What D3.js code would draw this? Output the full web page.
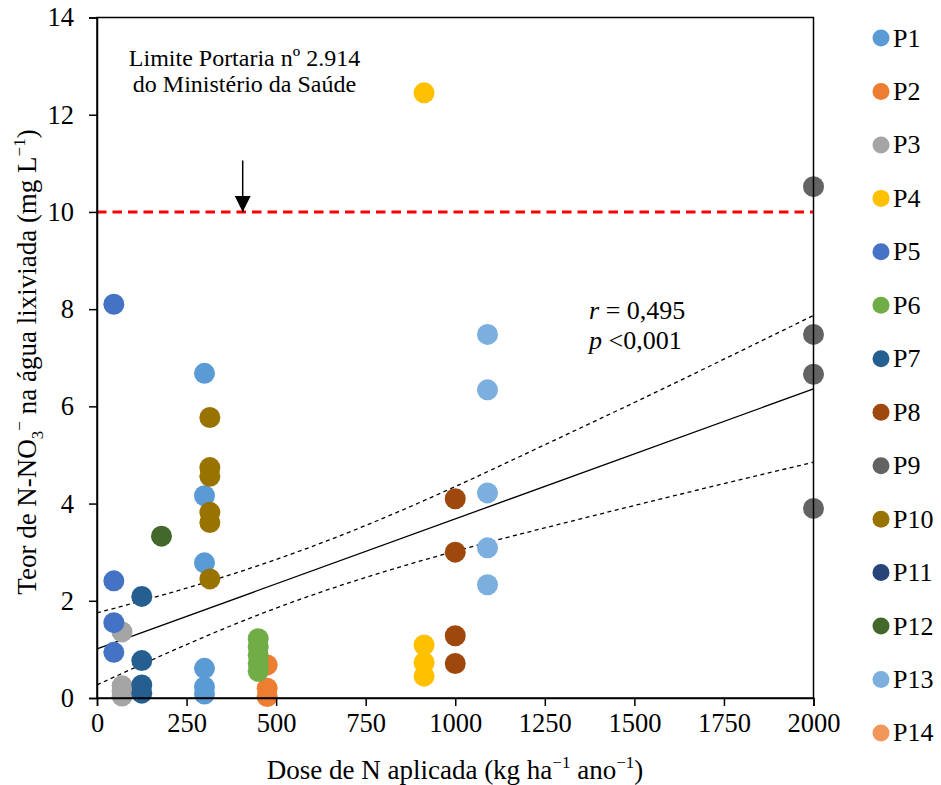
<!DOCTYPE html>
<html>
<head>
<meta charset="utf-8">
<script src="https://cdn.jsdelivr.net/npm/d3@7"></script>
<style>
  html, body { margin: 0; padding: 0; background: #fff; }
  svg { display: block; }
  text { font-family: "Liberation Serif", "Times New Roman", serif; fill: #000; }
</style>
</head>
<body>
<svg id="chart" width="941" height="785"></svg>
<script>
// ---------- data ----------
const seriesNames = ["P1","P2","P3","P4","P5","P6","P7","P8","P9","P10","P11","P12","P13","P14"];
const seriesColors = ["#5B9BD5","#ED7D31","#A5A5A5","#FFC000","#4472C4","#70AD47","#255E91","#9E480E","#636363","#997300","#264478","#43682B","#7CAFDD","#F1975A"];
const seriesDose = [300, 475, 70, 913, 47, 450, 125, 1000, 2000, 315, 125, 180, 1090, 475];
const P1 = [6.68, 4.16, 2.78, 0.61, 0.23, 0.08];
const P2 = [0.68, 0.20, 0.03];
const P3 = [1.36, 0.25, 0.13, 0.04];
const P4 = [12.45, 1.09, 0.73, 0.45];
const P5 = [8.10, 2.41, 1.55, 0.94];
const P6 = [1.22, 1.05, 0.88, 0.71, 0.55];
const P7 = [2.09, 0.77, 0.27, 0.10];
const P8 = [4.10, 3.00, 1.28, 0.71];
const P9 = [10.52, 7.48, 6.66, 3.90];
const P10 = [5.77, 4.74, 4.56, 3.82, 3.61, 2.45];
const P11 = [];
const P12 = [3.33];
const P13 = [7.48, 6.34, 4.22, 3.09, 2.33];
const P14 = [];
const seriesValues = [P1,P2,P3,P4,P5,P6,P7,P8,P9,P10,P11,P12,P13,P14];

// regression line and confidence band
const fitX = [0, 2000];
const fitY = [1.01, 6.36];
const bandX = [0, 250, 500, 750, 1000, 1250, 1500, 1750, 2000];
const bandUpper = [1.75, 2.26, 2.85, 3.55, 4.35, 5.21, 6.08, 6.97, 7.87];
const bandLower = [0.27, 1.10, 1.85, 2.48, 3.02, 3.50, 3.96, 4.41, 4.85];

const limitValue = 10;
const xTicks = [0, 250, 500, 750, 1000, 1250, 1500, 1750, 2000];
const yTicks = [0, 2, 4, 6, 8, 10, 12, 14];

// ---------- layout ----------
const svg = d3.select("#chart");
const x = d3.scaleLinear().domain([0, 2000]).range([97, 813.5]);
const y = d3.scaleLinear().domain([0, 14]).range([698, 17.5]);

// band + fit
const lineGen = d3.line().x(d => x(d[0])).y(d => y(d[1])).curve(d3.curveNatural);
const gLines = svg.append("g");
gLines.append("path").datum(bandX.map((v,i)=>[v, bandUpper[i]]))
  .attr("d", lineGen).attr("fill","none").attr("stroke","#000").attr("stroke-width",1.3).attr("stroke-dasharray","4,3.5");
gLines.append("path").datum(bandX.map((v,i)=>[v, bandLower[i]]))
  .attr("d", lineGen).attr("fill","none").attr("stroke","#000").attr("stroke-width",1.3).attr("stroke-dasharray","4,3.5");
gLines.append("path").datum(fitX.map((v,i)=>[v, fitY[i]]))
  .attr("d", d3.line().x(d=>x(d[0])).y(d=>y(d[1]))).attr("fill","none").attr("stroke","#000").attr("stroke-width",1.3);

// limit line
svg.append("line")
  .attr("x1", x(0)).attr("x2", x(2000)).attr("y1", y(limitValue)).attr("y2", y(limitValue))
  .attr("stroke", "#FF0000").attr("stroke-width", 3).attr("stroke-dasharray", "9.5,6");

// points
seriesValues.forEach((vals, i) => {
  svg.append("g").selectAll("circle").data(vals).join("circle")
    .attr("cx", x(seriesDose[i])).attr("cy", d => y(d)).attr("r", 10.5)
    .attr("fill", seriesColors[i]);
});

// frame
svg.append("rect").attr("x", x(0)).attr("y", y(14)).attr("width", x(2000)-x(0)).attr("height", y(0)-y(14))
  .attr("fill","none").attr("stroke","#000").attr("stroke-width",1.5);

// axes
const xAxis = d3.axisBottom(x).tickValues(xTicks).tickSize(8).tickPadding(6).tickFormat(d3.format("d"));
const gx = svg.append("g").attr("transform", `translate(0,${y(0)})`).call(xAxis);
const yAxis = d3.axisLeft(y).tickValues(yTicks).tickSize(8).tickPadding(15).tickFormat(d3.format("d"));
const gy = svg.append("g").attr("transform", `translate(${x(0)},0)`).call(yAxis);
[gx, gy].forEach(g => {
  g.attr("font-family", "Liberation Serif");
  g.select(".domain").attr("stroke","#000").attr("stroke-width",1.5);
  g.selectAll(".tick line").attr("stroke","#000").attr("stroke-width",1.5);
  g.selectAll(".tick text").attr("font-family","Liberation Serif").attr("font-size",26.5).attr("fill","#000");
});
gx.selectAll(".tick text").attr("dy", "0.75em");

// axis titles
const xt = svg.append("text").attr("x", 455).attr("y", 779).attr("text-anchor","middle").attr("font-size",27);
xt.append("tspan").text("Dose de N aplicada (kg ha");
xt.append("tspan").attr("dy",-11).attr("font-size",17).text("−1");
xt.append("tspan").attr("dy",11).text(" ano");
xt.append("tspan").attr("dy",-11).attr("font-size",17).text("−1");
xt.append("tspan").attr("dy",11).text(")");

const yt = svg.append("text").attr("transform","translate(36,362) rotate(-90)").attr("text-anchor","middle").attr("font-size",27);
yt.append("tspan").text("Teor de N-NO");
yt.append("tspan").attr("dy",7).attr("font-size",17).text("3");
yt.append("tspan").attr("dy",-18).attr("font-size",17).text("−");
yt.append("tspan").attr("dy",11).text(" na água lixiviada (mg L");
yt.append("tspan").attr("dy",-11).attr("font-size",17).text("−1");
yt.append("tspan").attr("dy",11).text(")");

// annotation
const ann = svg.append("text").attr("text-anchor","middle").attr("font-size",24);
ann.append("tspan").attr("x",244.5).attr("y",66).text("Limite Portaria nº 2.914");
ann.append("tspan").attr("x",244.5).attr("y",92).text("do Ministério da Saúde");
svg.append("defs").append("marker").attr("id","ah").attr("viewBox","0 0 10 10")
  .attr("refX",10).attr("refY",5).attr("markerWidth",16).attr("markerHeight",16).attr("markerUnits","userSpaceOnUse")
  .attr("orient","auto").append("path").attr("d","M0,0 L10,5 L0,10 Z").attr("fill","#000");
svg.append("line").attr("x1",242.7).attr("x2",242.7).attr("y1",160.5).attr("y2",y(limitValue))
  .attr("stroke","#000").attr("stroke-width",1.5).attr("marker-end","url(#ah)");

// statistics
const st1 = svg.append("text").attr("x",589).attr("y",319).attr("font-size",26);
st1.append("tspan").attr("font-style","italic").text("r");
st1.append("tspan").text(" = 0,495");
const st2 = svg.append("text").attr("x",589).attr("y",349).attr("font-size",26);
st2.append("tspan").attr("font-style","italic").text("p");
st2.append("tspan").text(" <0,001");

// legend
const leg = svg.append("g");
seriesNames.forEach((name, i) => {
  const cy = 38 + i * 53.46;
  leg.append("circle").attr("cx", 881).attr("cy", cy).attr("r", 8.5).attr("fill", seriesColors[i]);
  leg.append("text").attr("x", 893).attr("y", cy + 8.5).attr("font-size", 26).text(name);
});
</script>
</body>
</html>
